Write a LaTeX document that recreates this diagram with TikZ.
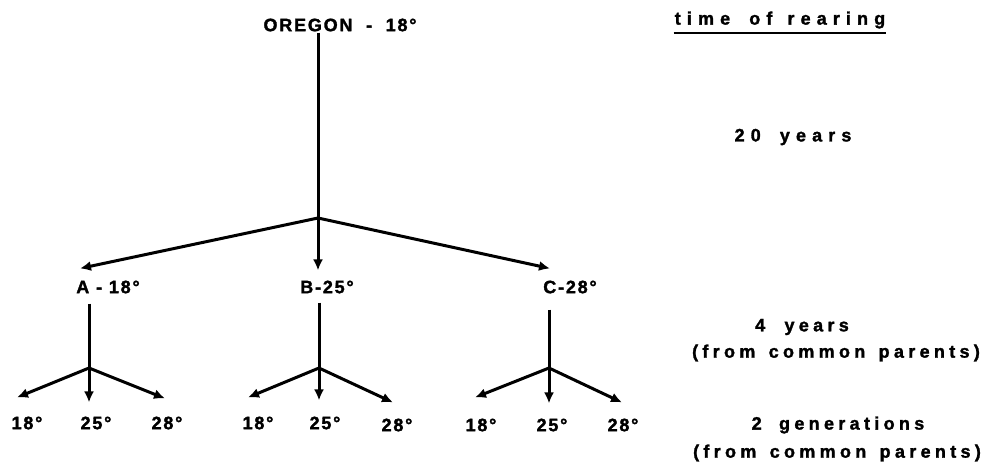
\documentclass[tikz,border=0pt]{standalone}
\usepackage{fontspec}
\setmainfont{Liberation Sans}
\newfontfamily\tagfont[LetterSpace=10, BoldFeatures={FakeBold=1.6}]{Liberation Sans}
\newfontfamily\notefont[LetterSpace=24, BoldFeatures={FakeBold=1.6}]{Liberation Sans}
\newfontfamily\widefont[LetterSpace=34, BoldFeatures={FakeBold=1.6}]{Liberation Sans}
\usetikzlibrary{arrows.meta,positioning}

\begin{document}
\begin{tikzpicture}[x=1pt,y=-1pt,
  temp/.style={font=\tagfont\bfseries\fontsize{18}{21}\selectfont, inner sep=1pt},
  note/.style={font=\notefont\bfseries\fontsize{18}{21}\selectfont, inner sep=1pt},
  widenote/.style={font=\widefont\bfseries\fontsize{18}{21}\selectfont, inner sep=1pt},
  stem/.style={line width=3pt},
  branch/.style={line width=3pt, -{Latex[length=11pt,width=10pt]}}]
  \useasboundingbox (0,0) rectangle (981,467);

  % line of origin
  \node[temp] (oregon) at (340,25) {OREGON \ - \ 18°};
  \coordinate (fork) at (318,218);
  \draw[stem] (oregon.south -| fork) -- (fork);

  % selected lines
  \node[temp] (a) at (108,287) {A - 18°};
  \node[temp] (b) at (327,287) {B-25°};
  \node[temp] (c) at (570,287) {C-28°};
  \draw[branch] (fork) -- ([shift={(-28,-11)}]a.north);
  \draw[branch] (fork) -- ([shift={(-9,-9)}]b.north);
  \draw[branch] (fork) -- ([shift={(-20,-11)}]c.north);

  % rearing temperatures
  \coordinate (forka) at (89,368);
  \coordinate (forkb) at (319,368);
  \coordinate (forkc) at (549,368);
  \draw[stem, shorten <=9pt] (a.south -| forka) -- (forka);
  \draw[stem, shorten <=8pt] (b.south -| forkb) -- (forkb);
  \draw[stem, shorten <=15pt] (c.south -| forkc) -- (forkc);

  \node[temp] (a18) at (27,423) {18°};
  \node[temp] (a25) at (96,423) {25°};
  \node[temp] (a28) at (167,423) {28°};
  \node[temp] (b18) at (258,423) {18°};
  \node[temp] (b25) at (325,423) {25°};
  \node[temp] (b28) at (397,425) {28°};
  \node[temp] (c18) at (481,425) {18°};
  \node[temp] (c25) at (552,425) {25°};
  \node[temp] (c28) at (623,425) {28°};

  \draw[branch] (forka) -- ([shift={(-10,-18)}]a18.north);
  \draw[branch] (forka) -- ([shift={(-7,-13)}]a25.north);
  \draw[branch] (forka) -- ([shift={(-2,-17)}]a28.north);
  \draw[branch] (forkb) -- ([shift={(-10,-18)}]b18.north);
  \draw[branch] (forkb) -- ([shift={(-6,-15)}]b25.north);
  \draw[branch] (forkb) -- ([shift={(-4,-15)}]b28.north);
  \draw[branch] (forkc) -- ([shift={(-6,-20)}]c18.north);
  \draw[branch] (forkc) -- ([shift={(-3,-14)}]c25.north);
  \draw[branch] (forkc) -- ([shift={(-1,-15)}]c28.north);

  % time of rearing
  \node[widenote] (rearing) at (780,20) {time\hspace{8pt} of\hspace{4pt} rearing};
  \draw[line width=2pt] ([yshift=-3pt]rearing.south west) -- ([yshift=-3pt]rearing.south east);
  \node[widenote] (years20) at (793,137) {20\hspace{8pt} years};
  \node[note] (years4) at (802,327) {4\hspace{10pt} years};
  \node[note] (parents4) at (836,353) {(from\hspace{4pt} common\hspace{4pt} parents)};
  \node[note] (gens) at (838,425) {2\hspace{8pt} generations};
  \node[note] (parents2) at (837,453) {(from\hspace{4pt} common\hspace{4pt} parents)};
\end{tikzpicture}
\end{document}
